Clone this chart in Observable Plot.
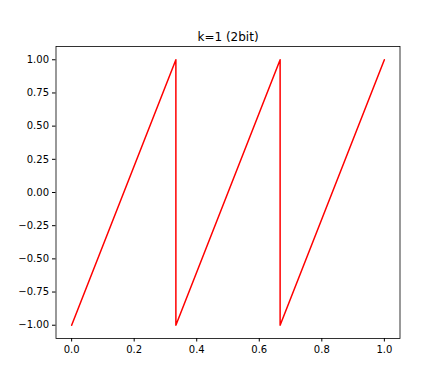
<!DOCTYPE html>
<html>
<head>
<meta charset="utf-8">
<script src="https://cdn.jsdelivr.net/npm/d3@7"></script>
<script src="https://cdn.jsdelivr.net/npm/@observablehq/plot@0.6"></script>
<style>
  html, body { margin: 0; padding: 0; background: #fff; }
  svg { display: block; }
</style>
</head>
<body>
<div id="chart"></div>
<script>
const titleText = "k=1 (2bit)";
const xs = [0, 1/3, 1/3, 2/3, 2/3, 1];
const ys = [-1, 1, -1, 1, -1, 1];
const xTicks = [0, 0.2, 0.4, 0.6, 0.8, 1.0];
const yTicks = [-1, -0.75, -0.5, -0.25, 0, 0.25, 0.5, 0.75, 1];

const data = xs.map((x, i) => ({x, y: ys[i]}));

const chart = Plot.plot({
  width: 444,
  height: 380,
  marginLeft: 55.5,
  marginRight: 44.5,
  marginTop: 46,
  marginBottom: 42,
  style: { fontFamily: "DejaVu Sans", fontSize: "10px", background: "#fff", color: "#000" },
  x: { domain: [-0.05, 1.05] },
  y: { domain: [-1.1, 1.1] },
  marks: [
    Plot.line(data, { x: "x", y: "y", stroke: "#ff0000", strokeWidth: 1.5 }),
    Plot.frame({ stroke: "#000", strokeWidth: 0.8 }),
    Plot.axisX({ ticks: xTicks, tickFormat: d3.format(".1f"), tickSize: 3.5, tickPadding: 3.5, label: null, fontSize: 10 }),
    Plot.axisY({ ticks: yTicks, tickFormat: d3.format(".2f"), tickSize: 3.5, tickPadding: 3.5, label: null, fontSize: 10 }),
    Plot.text([titleText], { frameAnchor: "top", dy: -14, text: d => d, fontSize: 12, fill: "#000" })
  ]
});
document.getElementById("chart").appendChild(chart);
</script>
</body>
</html>
